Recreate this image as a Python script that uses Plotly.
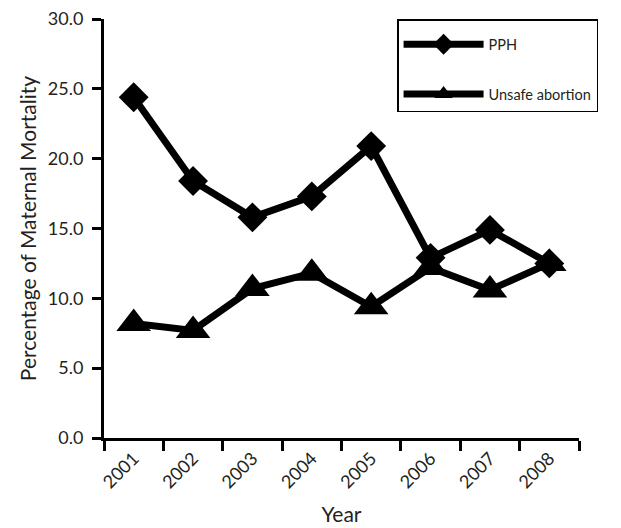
import plotly.graph_objects as go

years = ["2001", "2002", "2003", "2004", "2005", "2006", "2007", "2008"]
pph = [24.4, 18.4, 15.8, 17.3, 20.9, 12.9, 14.9, 12.5]
unsafe = [8.2, 7.7, 10.7, 11.8, 9.4, 12.2, 10.6, 12.5]
y_ticks = [0, 5, 10, 15, 20, 25, 30]
y_tick_labels = ["0.0", "5.0", "10.0", "15.0", "20.0", "25.0", "30.0"]

FONT = "Lato"
INK = "#231f20"

fig = go.Figure()
fig.add_trace(go.Scatter(
    x=years, y=pph, name="PPH", mode="lines+markers",
    line=dict(color="black", width=7),
    marker=dict(symbol="diamond", size=23, color="black"),
    legendgroup="a",
))
fig.add_trace(go.Scatter(
    x=years, y=unsafe, name="Unsafe abortion", mode="lines+markers",
    line=dict(color="black", width=7),
    marker=dict(symbol="triangle-up", size=30, color="black"),
    legendgroup="b",
))

fig.update_layout(
    width=613, height=520,
    margin=dict(l=96, r=42, t=11, b=90),
    paper_bgcolor="white", plot_bgcolor="white",
    font=dict(family=FONT, color=INK),
    showlegend=True,
    legend=dict(
        x=0.617, y=1.0, xanchor="left", yanchor="top",
        bordercolor="black", borderwidth=1.5,
        font=dict(size=14.5, family=FONT, color=INK),
        tracegroupgap=28, traceorder="grouped",
        itemwidth=80,
        bgcolor="white",
        title=dict(text=" ", font=dict(size=6)),
    ),
    xaxis=dict(
        type="category", range=[-0.5, 7.5], automargin=False,
        showline=True, linecolor="black", linewidth=3,
        ticks="outside", tickson="boundaries", ticklen=10, tickwidth=3, tickcolor="black",
        tickangle=-45, tickfont=dict(size=18, family=FONT, color=INK),
        ticklabeloverflow="allow",
        showgrid=False, zeroline=False,
        title=dict(text="Year", font=dict(size=21, family=FONT, color=INK), standoff=16),
    ),
    yaxis=dict(
        range=[0, 30], tickvals=y_ticks, ticktext=y_tick_labels, automargin=False,
        showline=True, linecolor="black", linewidth=3,
        ticks="outside", ticklen=9, tickwidth=3, tickcolor="black",
        ticklabelstandoff=5, ticklabeloverflow="allow",
        tickfont=dict(size=18, family=FONT, color=INK),
        showgrid=False, zeroline=False,
        title=dict(text="Percentage of Maternal Mortality", font=dict(size=21, family=FONT, color=INK), standoff=6),
    ),
)

fig.write_html("out.html")
